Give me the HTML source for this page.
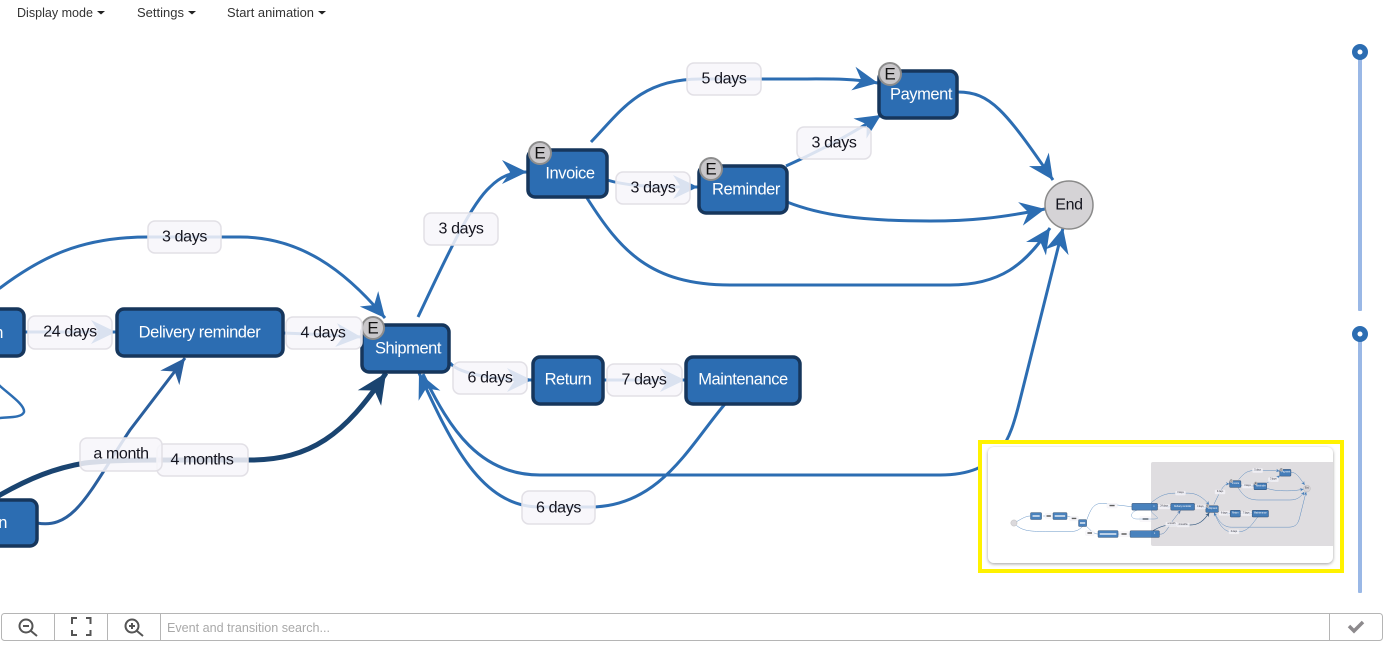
<!DOCTYPE html>
<html lang="en"><head><meta charset="utf-8"><title>Process diagram</title>
<style>
html,body{margin:0;padding:0;background:#fff;width:1390px;height:655px;overflow:hidden}
svg{display:block;font-family:"Liberation Sans",sans-serif}
.e{fill:none;stroke:#2c6db2;stroke-width:3;marker-end:url(#a)}
.n{fill:#2c6db2;stroke:#16365c;stroke-width:3.5}
.nt{fill:#fff;font-size:16.5px;letter-spacing:-.45px;text-anchor:middle;dominant-baseline:central}
.l{fill:#f7f6fa;fill-opacity:.86;stroke:#e2e0e6;stroke-width:1.5}
.lt{fill:#14141e;font-size:16px;letter-spacing:-.35px;text-anchor:middle;dominant-baseline:central}
.b{fill:#c9c7ca;stroke:#8d8d8d;stroke-width:2}
.bt{fill:#111;font-size:17px;text-anchor:middle;dominant-baseline:central}
.m{fill:#333;font-size:13px}
</style></head><body>
<svg width="1390" height="655" viewBox="0 0 1390 655" xmlns="http://www.w3.org/2000/svg">
<defs>
<marker id="a" markerUnits="userSpaceOnUse" markerWidth="30" markerHeight="30" refX="26" refY="13" orient="auto"><path d="M1 1L26 13L1 25L9 13Z" fill="#2c6db2"/></marker>
<marker id="a2" markerUnits="userSpaceOnUse" markerWidth="30" markerHeight="30" refX="26" refY="13" orient="auto"><path d="M1 1L26 13L1 25L9 13Z" fill="#2a5f9e"/></marker>
<marker id="a3" markerUnits="userSpaceOnUse" markerWidth="36" markerHeight="36" refX="30" refY="15" orient="auto"><path d="M0 1L30 15L0 29L9 15Z" fill="#1a4470"/></marker>
<filter id="bl" x="-5%" y="-5%" width="110%" height="110%"><feGaussianBlur stdDeviation=".35"/></filter>
<filter id="sh" x="-5%" y="-5%" width="110%" height="110%"><feDropShadow dx="0" dy="1" stdDeviation="1.5" flood-color="#777" flood-opacity=".7"/></filter>
<clipPath id="mc"><rect x="988" y="447" width="345" height="116" rx="6"/></clipPath>
<g id="graph">
<!-- far-left portion, only visible through the overview -->
<g fill="none" stroke="#2c6db2" stroke-width="3">
<path d="M-980 446C-930 420-900 397-866 397"/>
<path d="M-980 446C-930 500-880 505-760 505L-580 505C-540 505-520 490-500 470"/>
<path d="M-776 397L-708 397"/><path d="M-608 397L-528 420"/>
<path d="M-470 422C-440 340-420 308-360 308L-155 332"/>
<path d="M-472 470C-440 500-420 523-392 523"/>
<path d="M-252 523L-168 523"/>
</g>
<circle cx="-980" cy="446" r="22" fill="#d5d3d6" stroke="#8a8a8a" stroke-width="2"/>
<rect class="n" x="-864" y="373" width="77" height="48" rx="7"/>
<rect class="n" x="-707" y="373" width="98" height="48" rx="7"/>
<rect class="n" x="-528" y="422" width="56" height="48" rx="7"/>
<rect class="n" x="-392" y="499" width="140" height="47" rx="7"/>
<g stroke="#fff" stroke-width="9" fill="none"><path d="M-850 397H-800M-695 397H-622M-518 446H-482M-380 523H-264M-155 523H25M-145 332H15"/></g>
<rect class="l" x="-762" y="380" width="52" height="33" rx="6"/><rect class="l" x="-590" y="398" width="60" height="33" rx="6"/><rect class="l" x="-480" y="500" width="60" height="33" rx="6"/><rect class="l" x="-330" y="308" width="72" height="33" rx="6"/><rect class="l" x="-245" y="507" width="70" height="33" rx="6"/><rect class="l" x="-100" y="402" width="80" height="33" rx="6"/>
<g stroke="#444" stroke-width="10" fill="none"><path d="M-752 397H-722M-576 414H-544M-466 516H-434M-312 324H-276M-228 523H-192M-80 418H-40"/></g>

<!-- edges -->
<path class="e" d="M-20 308C-20 300 0 288 0 288C40 258 80 237 148 237L240 237C300 237 345 270 385 318"/>
<path class="e" d="M24 332L116 332"/>
<path class="e" d="M283 333C310 334 335 335 361 337"/>
<path class="e" d="M418 317C445 260 470 205 490 187C500 177 510 172 527 172"/>
<path class="e" d="M607 180C630 187 660 187 698 187"/>
<path class="e" d="M591 142C620 112 640 79 700 79L790 79C830 79 850 78 878 83"/>
<path class="e" d="M786 166C815 153 850 135 881 115"/>
<path class="e" d="M587 198C620 250 650 285 730 285L950 285C1000 285 1025 265 1050 228"/>
<path class="e" d="M787 202C820 215 860 221 930 221C970 221 1000 218 1045 209"/>
<path class="e" d="M958 92C990 92 1005 110 1053 180"/>
<path class="e" d="M450 363C460 375 500 380 532 380"/>
<path class="e" d="M603 380L685 380"/>
<path class="e" d="M725 404C690 445 660 507 590 507L540 507C480 507 450 440 419 373"/>
<path class="e" d="M423 374C450 430 480 475 540 475L940 475C1000 475 1010 440 1020 400L1063 228"/>
<path d="M-20 357C-20 370-10 378 0 386C10 395 25 405 24 412C22 418 8 417 0 418L-120 418C-170 418-170 370-120 357" fill="none" stroke="#2c6db2" stroke-width="2.500"/>
<path d="M37 523C75 530 90 490 130 430L185 358" fill="none" stroke="#2a5f9e" stroke-width="3" marker-end="url(#a2)"/>
<path d="M-40 523L0 495C30 478 55 468 85 463C110 460 140 460 160 460L250 460C310 460 345 435 386 373" fill="none" stroke="#1a4470" stroke-width="5" marker-end="url(#a3)"/>

<!-- nodes -->
<rect class="n" x="-155" y="309" width="179" height="47" rx="7"/>
<rect class="n" x="117" y="309" width="166" height="47" rx="7"/>
<rect class="n" x="362" y="325" width="87" height="47" rx="7"/>
<rect class="n" x="-168" y="500" width="205" height="46" rx="7"/>
<rect class="n" x="528" y="150" width="79" height="47" rx="7"/>
<rect class="n" x="699" y="166" width="88" height="47" rx="7"/>
<rect class="n" x="879" y="71" width="78" height="47" rx="7"/>
<rect class="n" x="533" y="357" width="70" height="47" rx="7"/>
<rect class="n" x="686" y="357" width="114" height="47" rx="7"/>
<circle cx="1069" cy="205" r="24" fill="#d5d3d6" stroke="#8a8a8a" stroke-width="1.500"/>
<text class="nt" x="3" y="333" style="text-anchor:end">n</text>
<text class="nt" x="7" y="523" style="text-anchor:end">n</text>
<text class="nt" x="199.500" y="332.500">Delivery reminder</text>
<text class="nt" x="408" y="348.500">Shipment</text>
<text class="nt" x="570" y="173.500">Invoice</text>
<text class="nt" x="746" y="189.500">Reminder</text>
<text class="nt" x="921" y="94.500">Payment</text>
<text class="nt" x="568" y="379.500">Return</text>
<text class="nt" x="743" y="379.500">Maintenance</text>
<text class="lt" x="1069" y="205">End</text>

<!-- badges -->
<circle class="b" cx="373" cy="328" r="11"/><text class="bt" x="373" y="328">E</text>
<circle class="b" cx="540" cy="153" r="11"/><text class="bt" x="540" y="153">E</text>
<circle class="b" cx="711" cy="169" r="11"/><text class="bt" x="711" y="169">E</text>
<circle class="b" cx="890" cy="74" r="11"/><text class="bt" x="890" y="74">E</text>

<!-- labels -->
<rect class="l" x="148" y="221" width="73" height="32" rx="7"/><text class="lt" x="184.500" y="237">3 days</text>
<rect class="l" x="28" y="316" width="84" height="33" rx="7"/><text class="lt" x="70" y="332">24 days</text>
<rect class="l" x="286" y="317" width="76" height="32" rx="7"/><text class="lt" x="323" y="333">4 days</text>
<rect class="l" x="453" y="362" width="74" height="32" rx="7"/><text class="lt" x="490" y="378">6 days</text>
<rect class="l" x="607" y="364" width="75" height="32" rx="7"/><text class="lt" x="644" y="380">7 days</text>
<rect class="l" x="424" y="213" width="74" height="32" rx="7"/><text class="lt" x="461" y="229">3 days</text>
<rect class="l" x="616" y="172" width="74" height="32" rx="7"/><text class="lt" x="653" y="188">3 days</text>
<rect class="l" x="687" y="63" width="74" height="32" rx="7"/><text class="lt" x="724" y="79">5 days</text>
<rect class="l" x="797" y="127" width="74" height="32" rx="7"/><text class="lt" x="834" y="143">3 days</text>
<rect class="l" x="157" y="444" width="91" height="32" rx="7"/><text class="lt" x="202" y="460">4 months</text>
<rect class="l" x="80" y="438" width="82" height="33" rx="7"/><text class="lt" x="121" y="454">a month</text>
<rect class="l" x="522" y="491" width="73" height="33" rx="7"/><text class="lt" x="558.500" y="508">6 days</text>
</g>
</defs>

<use href="#graph"/>

<!-- top menu -->
<text class="m" x="17" y="17" textLength="76" lengthAdjust="spacingAndGlyphs">Display mode</text><path d="M97 11h8l-4 3.500z" fill="#222"/>
<text class="m" x="137" y="17" textLength="47" lengthAdjust="spacingAndGlyphs">Settings</text><path d="M188 11h8l-4 3.500z" fill="#222"/>
<text class="m" x="227" y="17" textLength="87" lengthAdjust="spacingAndGlyphs">Start animation</text><path d="M318 11h8l-4 3.500z" fill="#222"/>

<!-- sliders -->
<rect x="1358" y="56" width="4" height="255" fill="#9ab8e6" rx="1"/>
<circle cx="1360" cy="52" r="8" fill="#2c6db2"/><circle cx="1360" cy="52" r="2.500" fill="#fff"/>
<rect x="1358" y="338" width="4" height="255" fill="#9ab8e6" rx="1"/>
<circle cx="1360" cy="334" r="8" fill="#2c6db2"/><circle cx="1360" cy="334" r="2.500" fill="#fff"/>

<!-- overview -->
<rect x="980" y="442" width="362" height="129" fill="#fff" stroke="#fff200" stroke-width="4"/>
<rect x="988" y="447" width="345" height="116" rx="6" fill="#fff" filter="url(#sh)"/>
<g clip-path="url(#mc)">
<rect x="1151" y="462" width="184" height="84" rx="2" fill="#dfdde0"/>
<g filter="url(#bl)" opacity=".85"><use href="#graph" transform="translate(1212 509) scale(.143) translate(-405 -348)"/></g>
</g>

<!-- bottom toolbar -->
<rect x="1.500" y="613.500" width="1381" height="27" rx="3" fill="#fff" stroke="#b5b5b5"/>
<path d="M54.500 614V640M107.500 614V640M160.500 614V640M1329.500 614V640" stroke="#b5b5b5"/>
<g fill="none" stroke="#555" stroke-width="2">
<circle cx="26" cy="626" r="6.500"/><path d="M31 631L37 636M23 626H29"/>
<circle cx="132" cy="626" r="6.500"/><path d="M137 631L143 636M129 626H135M132 623V629"/>
<path d="M72 624V618H77M86 618H90.500V624M72 630V635H77M86 635H90.500V630"/>
</g>
<text x="167" y="632" font-size="13" fill="#a9a9a9" textLength="163" lengthAdjust="spacingAndGlyphs">Event and transition search...</text>
<path d="M1349 626L1354 631L1363 622" fill="none" stroke="#8d8a8d" stroke-width="3.500"/>
</svg>
</body></html>
